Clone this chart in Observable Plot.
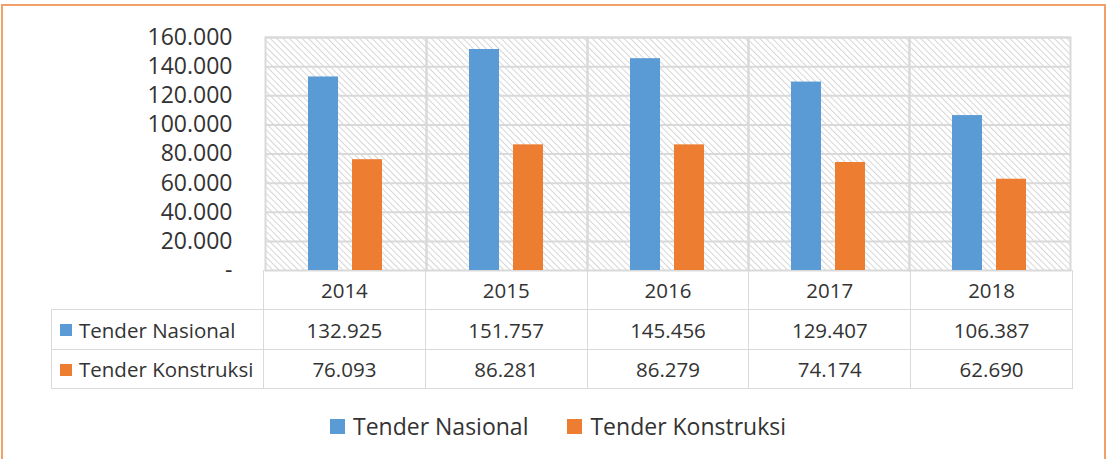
<!DOCTYPE html>
<html>
<head>
<meta charset="utf-8">
<script src="https://cdn.jsdelivr.net/npm/d3@7"></script>
<script src="https://cdn.jsdelivr.net/npm/@observablehq/plot@0.6"></script>
<style>
  html, body { margin: 0; padding: 0; overflow: hidden; background: #fff; }
  body { width: 1113px; height: 459px; position: relative; font-family: "Open Sans", sans-serif; color: #333; }
  #border { position: absolute; left: 1px; top: 4px; width: 1101px; height: 500px; border: 2.5px solid #f2a06a; }
  #plot { position: absolute; left: 0; top: 0; }
  #plot svg { display: block; overflow: visible; }
  #table { position: absolute; left: 51px; top: 270px; border-collapse: collapse; table-layout: fixed; font-size: 20.5px; color: #333; }
  #table td { border: 1.5px solid #d9d9d9; text-align: center; padding: 0; white-space: nowrap; }
  #table td.blank { border: none; }
  #table td.label { text-align: left; padding-left: 8px; }
  .sw { display: inline-block; width: 12px; height: 12px; margin-right: 7px; vertical-align: middle; position: relative; top: -2px; }
  #legend { position: absolute; left: 330px; top: 410px; display: flex; align-items: center; font-size: 23px; color: #333; }
  #legend .item { display: flex; align-items: center; margin-right: 39px; }
  #legend .sq { width: 15px; height: 15px; margin-right: 8px; }
</style>
</head>
<body>
<div id="border"></div>
<div id="plot"></div>
<table id="table"></table>
<div id="legend"></div>
<script>
// Tender counts per year (Indonesian number format: "." groups thousands)
const years = ["2014", "2015", "2016", "2017", "2018"];
const seriesNames = ["Tender Nasional", "Tender Konstruksi"];
const tenderNasional = [132925, 151757, 145456, 129407, 106387];
const tenderKonstruksi = [76093, 86281, 86279, 74174, 62690];
const yTicks = [0, 20000, 40000, 60000, 80000, 100000, 120000, 140000, 160000];
const seriesColors = ["#5B9BD5", "#ED7D31"];

const idLocale = d3.formatLocale({decimal: ",", thousands: ".", grouping: [3], currency: ["Rp", ""]});
const fmtNum = idLocale.format(",");
const fmtTick = v => (v === 0 ? "-" : fmtNum(v));

const seriesValues = [tenderNasional, tenderKonstruksi];
const rows = years.flatMap((year, i) =>
  seriesNames.map((name, s) => ({year, series: name, value: seriesValues[s][i]}))
);

const chart = Plot.plot({
  width: 1113,
  height: 270,
  marginTop: 37,
  marginBottom: 0,
  marginLeft: 263,
  marginRight: 41,
  style: {fontFamily: "'Open Sans', sans-serif", fontSize: "23px", color: "#333", background: "transparent"},
  fx: {domain: years, paddingInner: 0, paddingOuter: 0, axis: null},
  x: {domain: seriesNames, paddingInner: 0.311, paddingOuter: 0.953, axis: null},
  y: {domain: [0, 160000], ticks: yTicks, tickFormat: fmtTick, tickSize: 0, tickPadding: 33, label: null},
  color: {domain: seriesNames, range: seriesColors},
  marks: [
    Plot.frame({fill: "url(#hatch)", stroke: null}),
    Plot.gridY(yTicks.filter(d => d > 0), {stroke: "#d9d9d9", strokeOpacity: 1, strokeWidth: 2}),
    Plot.frame({stroke: "#d9d9d9", strokeWidth: 2}),
    Plot.barY(rows, {fx: "year", x: "series", y: "value", fill: "series"})
  ]
});

// diagonal hatch used as the plot-area background
const defs = d3.create("svg:defs");
const pat = defs.append("pattern")
  .attr("id", "hatch")
  .attr("patternUnits", "userSpaceOnUse")
  .attr("width", 4.5)
  .attr("height", 10)
  .attr("patternTransform", "rotate(-45)");
pat.append("rect").attr("width", 4.5).attr("height", 10).attr("fill", "#ffffff");
pat.append("line").attr("x1", 0.5).attr("y1", 0).attr("x2", 0.5).attr("y2", 10)
  .attr("stroke", "#d6d6d6").attr("stroke-width", 1);
chart.insertBefore(defs.node(), chart.firstChild);

document.getElementById("plot").appendChild(chart);

// data table under the plot, columns aligned with the facets
const colW = (1113 - 263 - 41) / years.length;
const table = d3.select("#table").style("width", (212 + colW * years.length) + "px");
const colgroup = table.append("colgroup");
colgroup.append("col").style("width", "212px");
years.forEach(() => colgroup.append("col").style("width", colW + "px"));

const head = table.append("tr").style("height", "39px");
head.append("td").attr("class", "blank");
years.forEach(y => head.append("td").text(y));

seriesNames.forEach((name, s) => {
  const tr = table.append("tr").style("height", s === 0 ? "40px" : "39px");
  const lab = tr.append("td").attr("class", "label");
  lab.append("span").attr("class", "sw").style("background", seriesColors[s]);
  lab.append("span").text(name);
  seriesValues[s].forEach(v => tr.append("td").text(fmtNum(v)));
});

// legend
const legend = d3.select("#legend");
seriesNames.forEach((name, s) => {
  const item = legend.append("div").attr("class", "item");
  item.append("div").attr("class", "sq").style("background", seriesColors[s]);
  item.append("span").text(name);
});
</script>
</body>
</html>
